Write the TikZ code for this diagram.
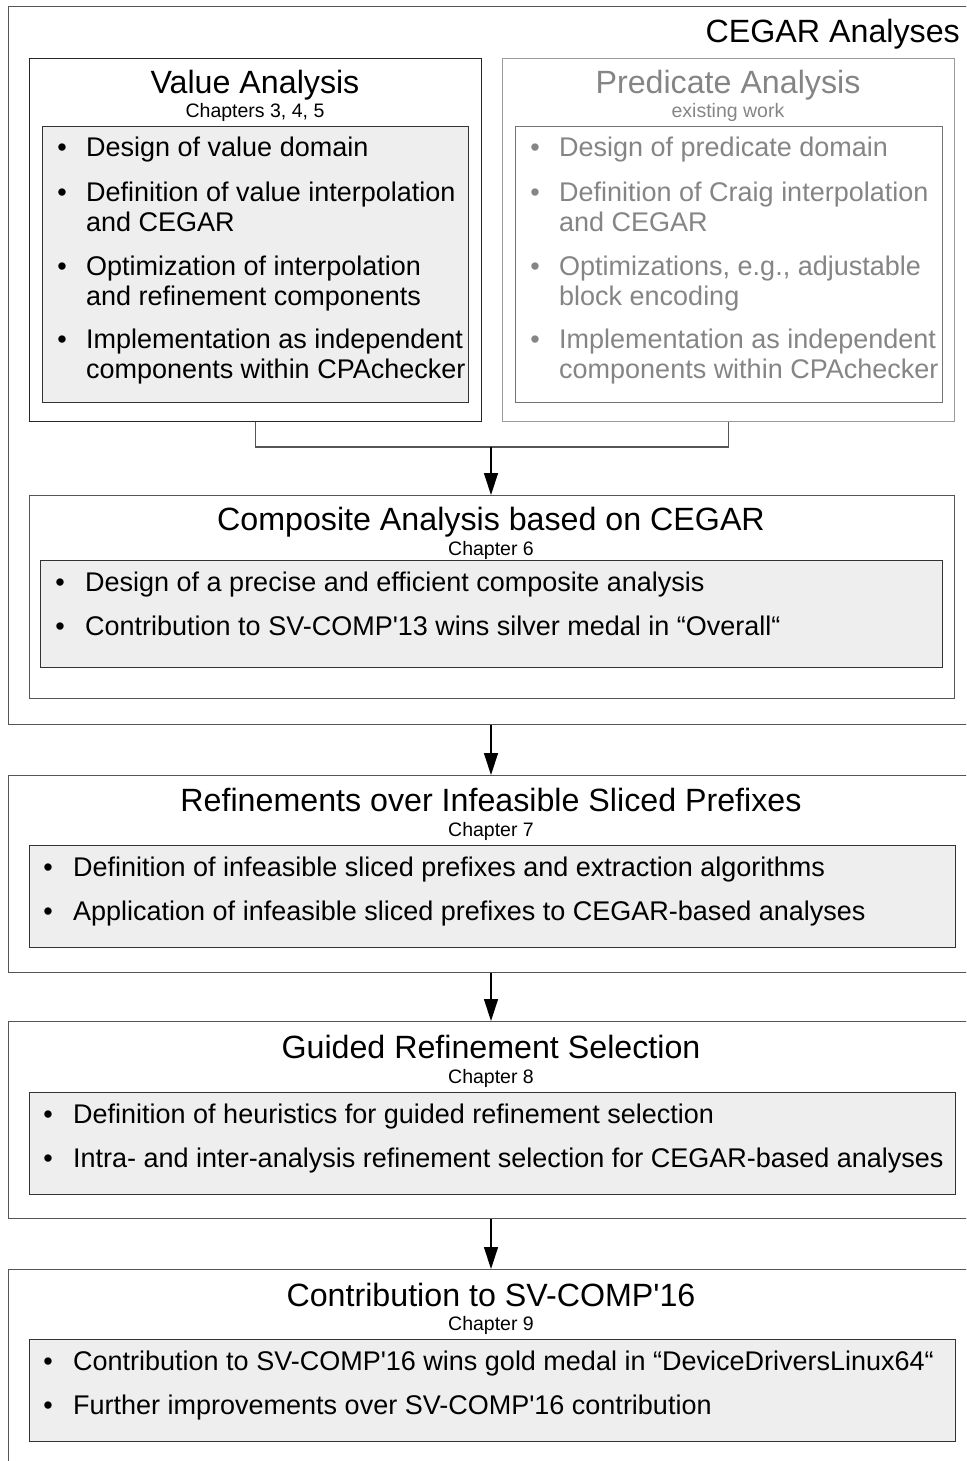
\documentclass[tikz,border=0pt]{standalone}
\usepackage{fontspec}
\setmainfont{Liberation Sans}
\usetikzlibrary{arrows.meta}
\definecolor{frameline}{HTML}{555555}
\definecolor{panelline}{HTML}{333333}
\definecolor{panelfill}{HTML}{EEEEEE}
\definecolor{faded}{HTML}{858585}
\definecolor{fadedline}{HTML}{9A9A9A}
\begin{document}
\begin{tikzpicture}[x=1pt,y=-1pt,
  frame/.style={draw=frameline, line width=1.3pt, inner sep=0pt, anchor=north west},
  panel/.style={draw=panelline, fill=panelfill, line width=1.3pt, inner sep=0pt, anchor=north west},
  title/.style={font=\fontsize{32.2}{36}\selectfont, anchor=base, inner sep=0pt},
  chap/.style={font=\fontsize{19.5}{22}\selectfont, anchor=base, inner sep=0pt},
  txt/.style={font=\fontsize{27}{30}\selectfont, anchor=base west, inner sep=0pt},
  bul/.style={font=\fontsize{27}{30}\selectfont, anchor=base, inner sep=0pt},
  conn/.style={draw=frameline, line width=1.3pt},
  arr/.style={draw=black, line width=1.3pt, -{Triangle[width=14pt,length=22pt]}}
]
\useasboundingbox (0,0) rectangle (966,1461);
\clip (0,0) rectangle (966,1461);

% ---------- CEGAR analyses frame ----------
\node[frame, minimum width=1092pt, minimum height=718pt] (cegar) at (8,6) {};
\node[title, anchor=base east] (cegart) at (960,43) {CEGAR Analyses};

% value analysis
\node[frame, draw=black!85, minimum width=452pt, minimum height=363pt] (value) at (29,58) {};
\node[title] (valuet) at (255,94) {Value Analysis};
\node[chap] (valuec) at (255,118) {Chapters 3, 4, 5};
\node[panel, minimum width=426pt, minimum height=276pt] (valuep) at (42,126) {};
\node[bul] (vb1) at (62,157) {\textbullet};
\node[txt] (v1) at (86,157) {Design of value domain};
\node[bul] (vb2) at (62,201) {\textbullet};
\node[txt] (v2a) at (86,201) {Definition of value interpolation};
\node[txt] (v2b) at (86,231) {and CEGAR};
\node[bul] (vb3) at (62,275) {\textbullet};
\node[txt] (v3a) at (86,275) {Optimization of interpolation};
\node[txt] (v3b) at (86,305) {and refinement components};
\node[bul] (vb4) at (62,348) {\textbullet};
\node[txt] (v4a) at (86,348) {Implementation as independent};
\node[txt] (v4b) at (86,378) {components within CPAchecker};

% predicate analysis (existing work)
\begin{scope}[every node/.append style={text=faded}]
\node[frame, draw=fadedline, minimum width=452pt, minimum height=363pt] (pred) at (502,58) {};
\node[title] (predt) at (728,94) {Predicate Analysis};
\node[chap] (predc) at (728,118) {existing work};
\node[panel, draw=black!55, fill=white, minimum width=427pt, minimum height=276pt] (predp) at (515,126) {};
\node[bul] (pb1) at (535,157) {\textbullet};
\node[txt] (p1) at (559,157) {Design of predicate domain};
\node[bul] (pb2) at (535,201) {\textbullet};
\node[txt] (p2a) at (559,201) {Definition of Craig interpolation};
\node[txt] (p2b) at (559,231) {and CEGAR};
\node[bul] (pb3) at (535,275) {\textbullet};
\node[txt] (p3a) at (559,275) {Optimizations, e.g., adjustable};
\node[txt] (p3b) at (559,305) {block encoding};
\node[bul] (pb4) at (535,348) {\textbullet};
\node[txt] (p4a) at (559,348) {Implementation as independent};
\node[txt] (p4b) at (559,378) {components within CPAchecker};
\end{scope}

% composite analysis
\node[frame, minimum width=925pt, minimum height=203pt] (comp) at (29,495) {};
\node[title] (compt) at (491,530) {Composite Analysis based on CEGAR};
\node[chap] (compc) at (491,555) {Chapter 6};
\node[panel, minimum width=902pt, minimum height=107pt] (compp) at (40,560) {};
\node[bul] (cb1) at (60,591) {\textbullet};
\node[txt] (c1) at (85,591) {Design of a precise and efficient composite analysis};
\node[bul] (cb2) at (60,635) {\textbullet};
\node[txt] (c2) at (85,635) {Contribution to SV-COMP\textquotesingle 13 wins silver medal in “Overall“};

% joining connector
\coordinate (join) at (491,447);
\draw[conn] (value.south) |- (join) -| (pred.south);
\draw[arr] (join) -- (join |- comp.north);

% ---------- refinements over infeasible sliced prefixes ----------
\node[frame, minimum width=1092pt, minimum height=197pt] (ref) at (8,775) {};
\node[title] (reft) at (491,811) {Refinements over Infeasible Sliced Prefixes};
\node[chap] (refc) at (491,836) {Chapter 7};
\node[panel, minimum width=926pt, minimum height=102pt] (refp) at (29,845) {};
\node[bul] (rb1) at (48,876) {\textbullet};
\node[txt] (r1) at (73,876) {Definition of infeasible sliced prefixes and extraction algorithms};
\node[bul] (rb2) at (48,920) {\textbullet};
\node[txt] (r2) at (73,920) {Application of infeasible sliced prefixes to CEGAR-based analyses};

% ---------- guided refinement selection ----------
\node[frame, minimum width=1092pt, minimum height=197pt] (guid) at (8,1021) {};
\node[title] (guidt) at (491,1058) {Guided Refinement Selection};
\node[chap] (guidc) at (491,1083) {Chapter 8};
\node[panel, minimum width=926pt, minimum height=102pt] (guidp) at (29,1092) {};
\node[bul] (gb1) at (48,1123) {\textbullet};
\node[txt] (g1) at (73,1123) {Definition of heuristics for guided refinement selection};
\node[bul] (gb2) at (48,1167) {\textbullet};
\node[txt] (g2) at (73,1167) {Intra- and inter-analysis refinement selection for CEGAR-based analyses};

% ---------- contribution to SV-COMP'16 ----------
\node[frame, minimum width=1092pt, minimum height=400pt] (svc) at (8,1269) {};
\node[title] (svct) at (491,1306) {Contribution to SV-COMP\textquotesingle 16};
\node[chap] (svcc) at (491,1330) {Chapter 9};
\node[panel, minimum width=926pt, minimum height=102pt] (svcp) at (29,1339) {};
\node[bul] (sb1) at (48,1370) {\textbullet};
\node[txt] (s1) at (73,1370) {Contribution to SV-COMP\textquotesingle 16 wins gold medal in “DeviceDriversLinux64“};
\node[bul] (sb2) at (48,1414) {\textbullet};
\node[txt] (s2) at (73,1414) {Further improvements over SV-COMP\textquotesingle 16 contribution};

% ---------- flow between stages ----------
\draw[arr] (join |- cegar.south) -- (join |- ref.north);
\draw[arr] (join |- ref.south) -- (join |- guid.north);
\draw[arr] (join |- guid.south) -- (join |- svc.north);
\end{tikzpicture}
\end{document}
